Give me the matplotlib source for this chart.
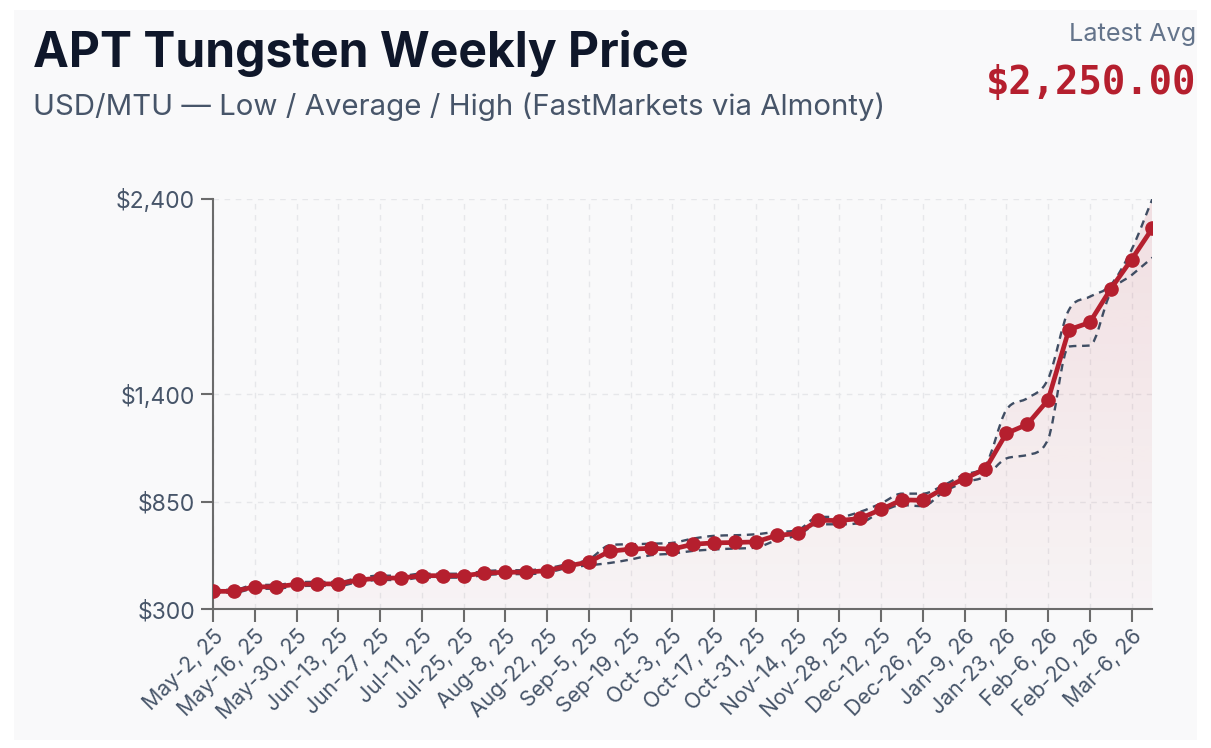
import matplotlib
matplotlib.use("Agg")
import matplotlib.pyplot as plt
import numpy as np
from matplotlib.patches import Rectangle, PathPatch
from matplotlib.path import Path
from matplotlib.colors import LinearSegmentedColormap

# ---------------- data ----------------
dates = ["May-2, 25", "May-9, 25", "May-16, 25", "May-23, 25", "May-30, 25", "Jun-6, 25",
         "Jun-13, 25", "Jun-20, 25", "Jun-27, 25", "Jul-4, 25", "Jul-11, 25", "Jul-18, 25",
         "Jul-25, 25", "Aug-1, 25", "Aug-8, 25", "Aug-15, 25", "Aug-22, 25", "Aug-29, 25",
         "Sep-5, 25", "Sep-12, 25", "Sep-19, 25", "Sep-26, 25", "Oct-3, 25", "Oct-10, 25",
         "Oct-17, 25", "Oct-24, 25", "Oct-31, 25", "Nov-7, 25", "Nov-14, 25", "Nov-21, 25",
         "Nov-28, 25", "Dec-5, 25", "Dec-12, 25", "Dec-19, 25", "Dec-26, 25", "Jan-2, 26",
         "Jan-9, 26", "Jan-16, 26", "Jan-23, 26", "Jan-30, 26", "Feb-6, 26", "Feb-13, 26",
         "Feb-20, 26", "Feb-27, 26", "Mar-6, 26", "Mar-13, 26"]

avg = [392, 392, 415, 415, 428, 430, 430, 450, 460, 460, 472, 472, 472, 485, 490, 490,
       498, 522, 542, 597, 608, 612, 608, 633, 640, 642, 645, 678, 688, 756, 754, 765,
       811, 860, 858, 918, 969, 1018, 1200, 1246, 1371, 1731, 1768, 1939, 2090, 2250]

high = [400, 400, 425, 425, 438, 440, 440, 462, 472, 472, 482, 482, 482, 495, 500, 500,
        510, 532, 555, 628, 633, 636, 640, 662, 676, 679, 684, 696, 705, 773, 773, 799,
        842, 892, 892, 935, 990, 1038, 1320, 1380, 1478, 1832, 1900, 1960, 2140, 2400]

low = [385, 385, 405, 405, 418, 420, 420, 440, 450, 450, 462, 462, 462, 475, 480, 480,
       488, 512, 525, 537, 555, 577, 585, 599, 606, 611, 616, 653, 679, 735, 735, 742,
       799, 833, 828, 901, 950, 980, 1072, 1090, 1170, 1645, 1650, 1920, 2010, 2100]

y_ticks = [300, 850, 1400, 2400]
y_tick_labels = ["$300", "$850", "$1,400", "$2,400"]

title = "APT Tungsten Weekly Price"
subtitle = "USD/MTU \u2014 Low / Average / High (FastMarkets via Almonty)"
latest_label = "Latest Avg"
latest_value = "$2,250.00"

# ---------------- style ----------------
plt.rcParams['font.family'] = ['Inter', 'DejaVu Sans']
RED = "#b51f2e"
SLATE = "#475569"
BG = "#f9f9fa"
W, H = 1211, 748


def monotone_path(xs, ys):
    """Bezier path through the given points with monotone (Fritsch-Carlson) tangents."""
    xs = np.asarray(xs, float)
    ys = np.asarray(ys, float)
    n = len(xs)
    dx = np.diff(xs)
    d = np.diff(ys) / dx
    m = np.zeros(n)
    m[0], m[-1] = d[0], d[-1]
    for k in range(1, n - 1):
        m[k] = 0.0 if d[k - 1] * d[k] <= 0 else (d[k - 1] + d[k]) / 2
    for k in range(n - 1):
        if d[k] == 0:
            m[k] = m[k + 1] = 0.0
        else:
            a, b = m[k] / d[k], m[k + 1] / d[k]
            s = a * a + b * b
            if s > 9:
                t = 3 / np.sqrt(s)
                m[k], m[k + 1] = t * a * d[k], t * b * d[k]
    verts = [(xs[0], ys[0])]
    codes = [Path.MOVETO]
    for k in range(n - 1):
        h = dx[k] / 3
        verts += [(xs[k] + h, ys[k] + m[k] * h),
                  (xs[k + 1] - h, ys[k + 1] - m[k + 1] * h),
                  (xs[k + 1], ys[k + 1])]
        codes += [Path.CURVE4] * 3
    return verts, codes


fig = plt.figure(figsize=(W / 100, H / 100), dpi=100, facecolor="white")
fig.patches.append(Rectangle((14 / W, 8 / H), 1 - 28 / W, 1 - 18 / H,
                             transform=fig.transFigure, facecolor=BG,
                             edgecolor="none", zorder=-10))

ax = fig.add_axes([213 / W, 1 - 609.3 / H, (1152.4 - 213) / W, (609.3 - 199) / H])
ax.set_facecolor("none")

x = np.arange(len(dates))
ax.set_xlim(0, len(dates) - 1)
ax.set_ylim(300, 2400)

# gradient fill under the (smoothed) high line
hv, hc = monotone_path(x, high)
fv = hv + [(x[-1], 300), (x[0], 300), (x[0], high[0])]
fc = hc + [Path.LINETO, Path.LINETO, Path.CLOSEPOLY]
fill_patch = PathPatch(Path(fv, fc), facecolor="none", edgecolor="none",
                       transform=ax.transData)
ax.add_patch(fill_patch)
cmap = LinearSegmentedColormap.from_list(
    "g", [(185 / 255, 28 / 255, 44 / 255, 0.025), (185 / 255, 28 / 255, 44 / 255, 0.12)])
grad = np.linspace(0, 1, 256).reshape(-1, 1)
im = ax.imshow(grad, extent=[0, len(dates) - 1, 300, 2400], origin="lower",
               aspect="auto", cmap=cmap, zorder=1, interpolation="bilinear")
im.set_clip_path(fill_patch)

# grid
ax.set_xticks(x[::2])
ax.set_xticklabels(dates[::2])
ax.set_yticks(y_ticks)
ax.set_yticklabels(y_tick_labels)
ax.grid(True, color="#e6e7ea", linestyle=(0, (4, 4)), linewidth=1.0, zorder=0)
ax.set_axisbelow(True)

# low/high dashed smoothed lines
for series in (high, low):
    v, c = monotone_path(x, series)
    ax.add_patch(PathPatch(Path(v, c), facecolor="none", edgecolor="#3f4d63",
                           lw=1.7, ls=(0, (3.2, 2.4)), zorder=3))

# average line
ax.plot(x, avg, color=RED, lw=3.4, marker="o", markersize=9.5,
        markerfacecolor=RED, markeredgecolor=RED, zorder=4, solid_joinstyle="round")

# spines & ticks
for s in ["top", "right"]:
    ax.spines[s].set_visible(False)
for s in ["left", "bottom"]:
    ax.spines[s].set_color("#6b6b6b")
    ax.spines[s].set_linewidth(1.5)
ax.tick_params(axis="both", color="#6b6b6b", width=1.5, length=9, labelcolor=SLATE)
ax.tick_params(axis="y", labelsize=16.5, pad=4)
ax.tick_params(axis="x", labelsize=15.3, pad=3)
for lab in ax.get_xticklabels():
    lab.set_rotation(45)
    lab.set_ha("right")
    lab.set_va("top")
    lab.set_rotation_mode("anchor")

# header texts
fig.text(33 / W, 1 - 67 / H, title, fontsize=34.6, fontweight="bold",
         color="#0f172a", ha="left", va="baseline")
fig.text(33 / W, 1 - 115 / H, subtitle, fontsize=21.2, color=SLATE,
         ha="left", va="baseline")
fig.text(1196 / W, 1 - 41 / H, latest_label, fontsize=18.2, color="#64748b",
         ha="right", va="baseline")
fig.text(1196 / W, 1 - 94 / H, latest_value, fontsize=28, fontweight="bold",
         color=RED, ha="right", va="baseline", family=["DejaVu Sans Mono"])

fig.savefig("out.png", dpi=100, facecolor=fig.get_facecolor())
